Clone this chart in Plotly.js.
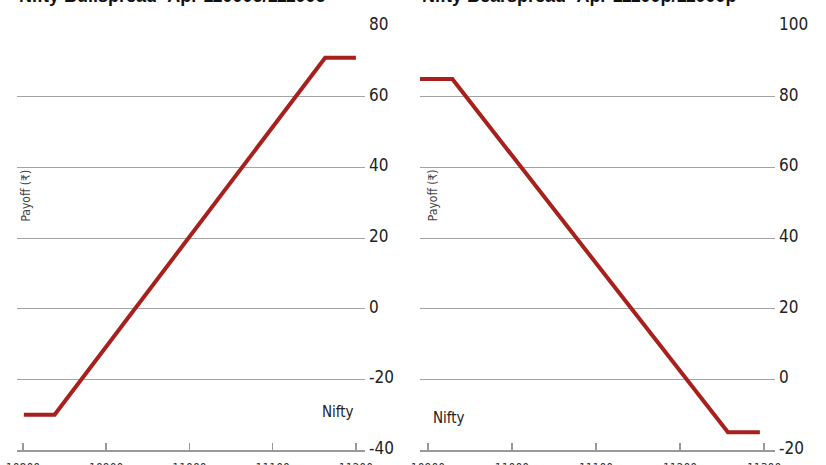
<!DOCTYPE html>
<html>
<head>
<meta charset="utf-8">
<script src="https://cdn.plot.ly/plotly-3.0.1.min.js"></script>
<style>html,body{margin:0;padding:0;background:#fff}#chart{width:826px;height:465px}</style>
</head>
<body>
<div id="chart"></div>
<script>
// Left panel: bull spread payoff
const bullNifty = [10801, 10838, 11163, 11200];
const bullPayoff = [-30, -30, 71, 71];
const bullTicks = [10800, 10900, 11000, 11100, 11200];
const bullYTicks = [-40, -20, 0, 20, 40, 60, 80];

// Right panel: bear spread payoff
const bearNifty = [10890, 10929, 11257, 11295];
const bearPayoff = [85, 85, -15, -15];
const bearTicks = [10900, 11000, 11100, 11200, 11300];
const bearYTicks = [-20, 0, 20, 40, 60, 80, 100];

const titles = ["Nifty Bullspread- Apr 11000c/11100c", "Nifty Bearspread- Apr 11100p/11000p"];
const yLabel = "Payoff (₹)";
const xLabel = "Nifty";

const lineColor = "#a8201c";
const gridColor = "#a3a3a3";
const condensed = "DejaVu Sans Condensed, Liberation Sans Narrow, sans-serif";
const tickFont = {family: condensed, size: 17, color: "#222"};

const traces = [
  {x: bullNifty, y: bullPayoff, xaxis: "x", yaxis: "y", mode: "lines",
   line: {color: lineColor, width: 4}, hoverinfo: "skip"},
  {x: bearNifty, y: bearPayoff, xaxis: "x2", yaxis: "y2", mode: "lines",
   line: {color: lineColor, width: 4}, hoverinfo: "skip"}
];

function xAxis(domain, range, ticks, anchor) {
  return {domain: domain, range: range, anchor: anchor, tickmode: "array", tickvals: ticks,
    ticktext: ticks.map(String), showgrid: false, zeroline: false, showline: true,
    linecolor: "#999", linewidth: 1.5, ticks: "inside", ticklen: 7, tickcolor: "#999",
    tickwidth: 1.5, tickfont: {family: condensed, size: 12, color: "#333"},
    ticklabelstandoff: 6, fixedrange: true};
}
function yAxis(range, ticks, anchor) {
  return {range: range, anchor: anchor, side: "right", tickmode: "array", tickvals: ticks,
    ticktext: ticks.map(v => v < 0 ? "-" + Math.abs(v) : String(v)),
    showgrid: true, gridcolor: gridColor, gridwidth: 1, zeroline: false, showline: false,
    ticks: "", tickfont: tickFont, ticklabelshift: -2, ticklabelstandoff: 3, fixedrange: true};
}

const layout = {
  width: 826, height: 465,
  margin: {l: 17, r: 51, t: 26, b: 15},
  paper_bgcolor: "#fff", plot_bgcolor: "#fff",
  showlegend: false,
  xaxis: xAxis([0, 0.459], [10792.8, 11210.8], bullTicks, "y"),
  yaxis: yAxis([-40, 80], bullYTicks, "x"),
  xaxis2: xAxis([0.5317, 1.0], [10890.5, 11313], bearTicks, "y2"),
  yaxis2: yAxis([-20, 100], bearYTicks, "x2"),
  annotations: [
    {text: "<b>" + titles[0] + "</b>", xref: "paper", yref: "paper", x: 0, y: 1, yshift: 30,
     xanchor: "left", yanchor: "middle", showarrow: false,
     font: {family: "Liberation Sans, Arial, sans-serif", size: 18, color: "#111"}},
    {text: "<b>" + titles[1] + "</b>", xref: "paper", yref: "paper", x: 0.5317, y: 1, yshift: 30,
     xanchor: "left", yanchor: "middle", showarrow: false,
     font: {family: "Liberation Sans, Arial, sans-serif", size: 18, color: "#111"}},
    {text: yLabel, xref: "x domain", yref: "y domain", x: 0, y: 0.6, textangle: -90,
     xanchor: "left", yanchor: "middle", showarrow: false,
     font: {family: condensed, size: 12, color: "#444"}},
    {text: yLabel, xref: "x2 domain", yref: "y2 domain", x: 0.01, y: 0.6, textangle: -90,
     xanchor: "left", yanchor: "middle", showarrow: false,
     font: {family: condensed, size: 12, color: "#444"}},
    {text: xLabel, xref: "x domain", yref: "y domain", x: 0.975, y: 0.09,
     xanchor: "right", yanchor: "middle", showarrow: false,
     font: {family: condensed, size: 15, color: "#222"}},
    {text: xLabel, xref: "x2 domain", yref: "y2 domain", x: 0.03, y: 0.075,
     xanchor: "left", yanchor: "middle", showarrow: false,
     font: {family: condensed, size: 15, color: "#222"}}
  ]
};

Plotly.newPlot("chart", traces, layout, {staticPlot: true, displayModeBar: false});
</script>
</body>
</html>
